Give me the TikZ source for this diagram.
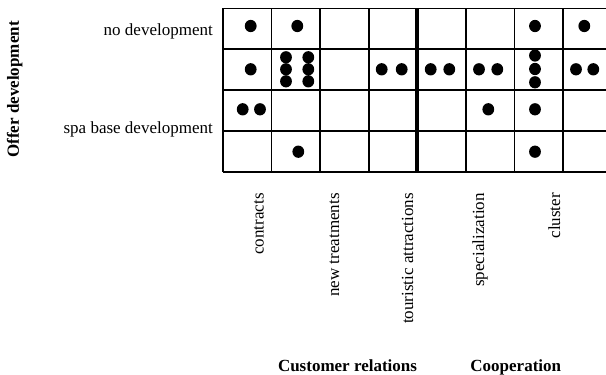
\documentclass[tikz,border=0pt]{standalone}
\usepackage{fontspec}
\setmainfont{Liberation Serif}
\usetikzlibrary{positioning,shapes.geometric}
\tikzstyle{spot}=[ellipse, fill=black, inner sep=0pt, minimum width=11.8pt, minimum height=12.3pt]
\tikzstyle{rowlabel}=[font=\fontsize{17}{20}\selectfont, anchor=base east, inner sep=0pt]
\tikzstyle{collabel}=[font=\fontsize{17}{20}\selectfont, rotate=90, anchor=base east, inner sep=0pt]
\tikzstyle{heading}=[font=\bfseries\fontsize{17}{20}\selectfont, anchor=base, inner sep=0pt]
\tikzstyle{gridline}=[line width=1.6pt]
\begin{document}
\begin{tikzpicture}[x=1pt, y=-1pt]
    \useasboundingbox (0,0) rectangle (606,375);
    % grid
    \draw[gridline] (223,8.3) -- (611.6,8.3) (223,49.2) -- (611.6,49.2) (223,90.1) -- (611.6,90.1)
        (223,131) -- (611.6,131) (223,172) -- (611.6,172);
    \draw[gridline] (223,8.3) -- (223,172) (271.6,8.3) -- (271.6,172) (320.1,8.3) -- (320.1,172)
        (368.7,8.3) -- (368.7,172) (465.9,8.3) -- (465.9,172) (514.4,8.3) -- (514.4,172)
        (563,8.3) -- (563,172) (611.6,8.3) -- (611.6,172);
    \draw[line width=4pt] (417.3,8.3) -- (417.3,172);

    % labels
    \node [heading, rotate=90] (offer) at (19,89.5) {Offer development};
    \node [rowlabel] (nodev) at (213,35) {no development};
    \node [rowlabel] (spadev) at (213,133.5) {spa base development};
    \node [collabel] (contracts) at (263.5,193) {contracts};
    \node [collabel] (treatments) at (339,193) {new treatments};
    \node [collabel] (attractions) at (413,193) {touristic attractions};
    \node [collabel] (special) at (484,193) {specialization};
    \node [collabel] (cluster) at (560,193) {cluster};
    \node [heading] (customer) at (347.5,371.7) {Customer relations};
    \node [heading] (cooper) at (515.8,371.7) {Cooperation};

    % row 1
    \node [spot] (a1) at (250.7,26) {};
    \node [spot] (a2) at (297.3,26) {};
    \node [spot] (a7) at (535,26) {};
    \node [spot] (a8) at (584.3,26) {};
    % row 2
    \node [spot] (b1) at (250.7,69.3) {};
    \node [spot] (b2a) at (286,57.3) {};
    \node [spot] (b2b) at (308.3,57.3) {};
    \node [spot] (b2c) at (286,69.3) {};
    \node [spot] (b2d) at (308.3,69.3) {};
    \node [spot] (b2e) at (286,81.3) {};
    \node [spot] (b2f) at (308.3,81.3) {};
    \node [spot] (b4a) at (381.7,69.3) {};
    \node [spot] (b4b) at (401.7,69.3) {};
    \node [spot] (b5a) at (430.7,69.3) {};
    \node [spot] (b5b) at (449.3,69.3) {};
    \node [spot] (b6a) at (479,69.3) {};
    \node [spot] (b6b) at (497.3,69.3) {};
    \node [spot] (b7a) at (535,55.5) {};
    \node [spot] (b7b) at (535,69) {};
    \node [spot] (b7c) at (535,82.3) {};
    \node [spot] (b8a) at (576,69.3) {};
    \node [spot] (b8b) at (593.3,69.3) {};
    % row 3
    \node [spot] (c1a) at (242.7,109.3) {};
    \node [spot] (c1b) at (260,109.3) {};
    \node [spot] (c6) at (488.3,109.3) {};
    \node [spot] (c7) at (535,109.3) {};
    % row 4
    \node [spot] (d2) at (298.3,151.7) {};
    \node [spot] (d7) at (535,151.7) {};
\end{tikzpicture}
\end{document}
